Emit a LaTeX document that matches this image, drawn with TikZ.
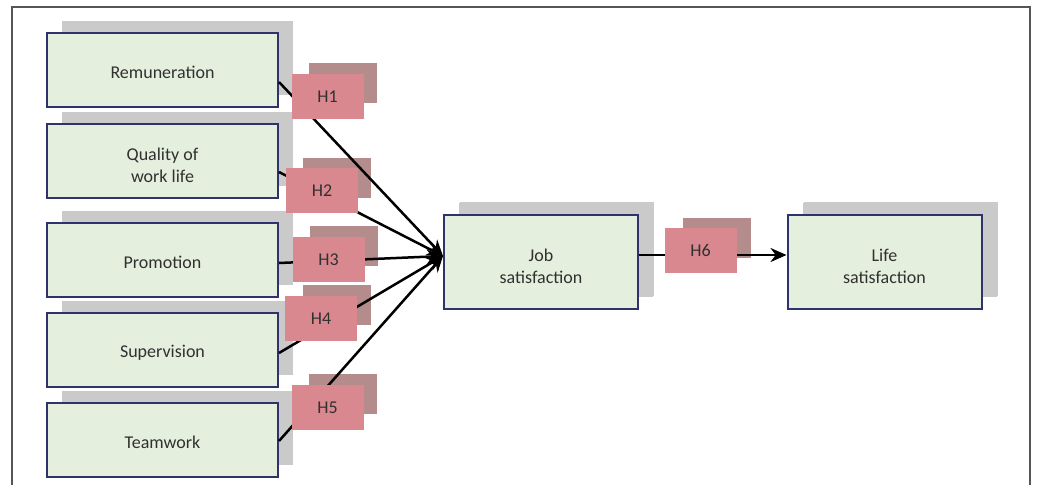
\documentclass[tikz,border=0pt]{standalone}
\usepackage{fontspec}
\setmainfont{Carlito}
\usetikzlibrary{arrows.meta,shadows}
\definecolor{boxfill}{HTML}{E5EFDE}
\definecolor{boxline}{HTML}{30336B}
\definecolor{sgray}{HTML}{CACACA}
\definecolor{hfront}{HTML}{DA8890}
\definecolor{hbackc}{HTML}{B48C8C}
\definecolor{framec}{HTML}{555555}
\definecolor{txt}{HTML}{303030}
\begin{document}
\begin{tikzpicture}[x=1pt,y=-1pt,
  lbl/.style={font=\fontsize{18}{22}\selectfont, text=txt},
  factor/.style={lbl, draw=boxline, line width=2pt, fill=boxfill, inner sep=0pt, align=center,
    text height=17pt,
    minimum width=231pt, minimum height=74pt,
    drop shadow={shadow xshift=15pt, shadow yshift=12pt, fill=sgray, opacity=1}},
  twoline/.style={text height=43pt},
  bigbox/.style={factor, twoline, minimum width=194pt, minimum height=94pt,
    drop shadow={shadow xshift=16pt, shadow yshift=13pt, fill=sgray, opacity=1}},
  hfrontbox/.style={lbl, fill=hfront, inner sep=0pt, minimum width=72pt, minimum height=45pt},
  hbackbox/.style={fill=hbackc, inner sep=0pt, minimum width=68pt, minimum height=40pt},
  conn/.style={line width=2.5pt, black, -{Stealth[length=16pt,width=14pt]}}
]
\useasboundingbox (0,0) rectangle (1040,485);
\draw[framec, line width=1.2pt] (12,485) -- (12,7) -- (1030,7) -- (1030,485);

% factor boxes
\node[factor] (rem) at (162.5,70) {Remuneration};
\node[factor, twoline] (qwl) at (162.5,161) {Quality of\\work life};
\node[factor] (pro) at (162.5,260) {Promotion};
\node[factor] (sup) at (162.5,350) {Supervision};
\node[factor] (team) at (162.5,440) {Teamwork};
\node[bigbox] (job) at (541,262) {Job\\satisfaction};
\node[bigbox] (life) at (884.5,262) {Life\\satisfaction};

% back parts of hypothesis labels
\node[hbackbox] (h1b) at (342.5,83) {};
\node[hbackbox] (h2b) at (336.5,177.5) {};
\node[hbackbox] (h3b) at (343.5,246) {};
\node[hbackbox] (h4b) at (336.5,305) {};
\node[hbackbox] (h5b) at (342.5,394) {};
\node[hbackbox] (h6b) at (717,237.5) {};

% connectors
\draw[conn] ([yshift=-12pt]rem.east) -- ([yshift=6pt]job.west);
\draw[conn] ([yshift=-11pt]qwl.east) -- ([yshift=6pt]job.west);
\draw[conn] ([yshift=-3pt]pro.east) -- ([yshift=6pt]job.west);
\draw[conn] ([yshift=-3pt]sup.east) -- ([yshift=6pt]job.west);
\draw[conn] ([yshift=-1pt]team.east) -- ([yshift=6pt]job.west);
\draw[conn] ([yshift=7pt]job.east) -- ([yshift=7pt]life.west);

% front parts of hypothesis labels
\node[hfrontbox] (h1) at (327.5,96.5) {H1};
\node[hfrontbox] (h2) at (322,190.5) {H2};
\node[hfrontbox] (h3) at (328.5,259.5) {H3};
\node[hfrontbox] (h4) at (321,318.5) {H4};
\node[hfrontbox] (h5) at (327.5,407.5) {H5};
\node[hfrontbox] (h6) at (700.5,250.5) {H6};
\end{tikzpicture}
\end{document}
